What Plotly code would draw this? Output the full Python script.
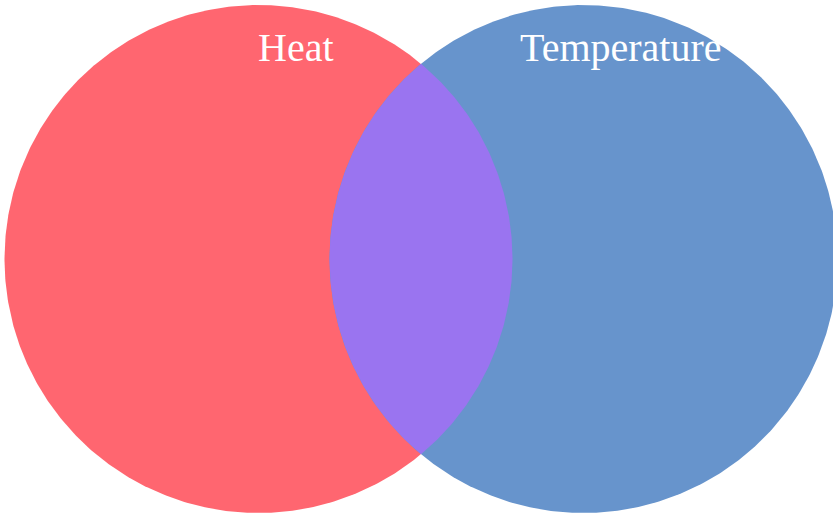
import numpy as np
import plotly.graph_objects as go

set_labels = ["Heat", "Temperature"]
set_sizes = [10.0, 10.0]
overlap_size = 2.45

colors = ["#FF6670", "#6794CC"]
overlap_color = "#9A74F0"

r1 = np.sqrt(set_sizes[0] / np.pi)
r2 = np.sqrt(set_sizes[1] / np.pi)


def lens_area(d, a, b):
    if d >= a + b:
        return 0.0
    if d <= abs(a - b):
        return np.pi * min(a, b) ** 2
    p1 = a * a * np.arccos((d * d + a * a - b * b) / (2 * d * a))
    p2 = b * b * np.arccos((d * d + b * b - a * a) / (2 * d * b))
    p3 = 0.5 * np.sqrt((-d + a + b) * (d + a - b) * (d - a + b) * (d + a + b))
    return p1 + p2 - p3


lo, hi = abs(r1 - r2) + 1e-9, r1 + r2
for _ in range(100):
    mid = (lo + hi) / 2
    if lens_area(mid, r1, r2) > overlap_size:
        lo = mid
    else:
        hi = mid
d = (lo + hi) / 2
c1, c2 = 0.0, d

t = np.linspace(0, 2 * np.pi, 600)
fig = go.Figure()
for cx, r, col in [(c1, r1, colors[0]), (c2, r2, colors[1])]:
    fig.add_trace(go.Scatter(x=cx + r * np.cos(t), y=r * np.sin(t), fill="toself",
                             fillcolor=col, mode="lines", line=dict(width=0),
                             hoverinfo="skip", showlegend=False))

# intersection lens
xi = (d * d + r1 * r1 - r2 * r2) / (2 * d)
yi = np.sqrt(r1 * r1 - xi * xi)
a1 = np.arctan2(yi, xi)
a2 = np.arctan2(yi, xi - d)
arc1 = np.linspace(-a1, a1, 200)
arc2 = np.linspace(a2, 2 * np.pi - a2, 200)
lx = np.concatenate([c1 + r1 * np.cos(arc1), c2 + r2 * np.cos(arc2)])
ly = np.concatenate([r1 * np.sin(arc1), r2 * np.sin(arc2)])
fig.add_trace(go.Scatter(x=lx, y=ly, fill="toself", fillcolor=overlap_color, mode="lines",
                         line=dict(width=0), hoverinfo="skip", showlegend=False))

scale = 254 / r1  # px per unit
W, H = 833, 516
cx_px, cy_px = 258.5, 259
xr = [-cx_px / scale, (W - cx_px) / scale]
yr = [-(H - cy_px) / scale, cy_px / scale]

label_y = (cy_px - 47) / scale
for cx, lab in zip([c1, c2], set_labels):
    fig.add_annotation(x=cx + 37 / scale, y=label_y, text=lab, showarrow=False,
                       font=dict(family="Liberation Serif", size=40, color="white"),
                       xanchor="center", yanchor="middle")

fig.update_layout(width=W, height=H, margin=dict(l=0, r=0, t=0, b=0),
                  paper_bgcolor="white", plot_bgcolor="white",
                  xaxis=dict(range=xr, visible=False, fixedrange=True),
                  yaxis=dict(range=yr, visible=False, fixedrange=True))
fig.write_html("out.html", config={"displayModeBar": False},
               post_script="document.body.style.margin='0';document.body.style.overflow='hidden';")
